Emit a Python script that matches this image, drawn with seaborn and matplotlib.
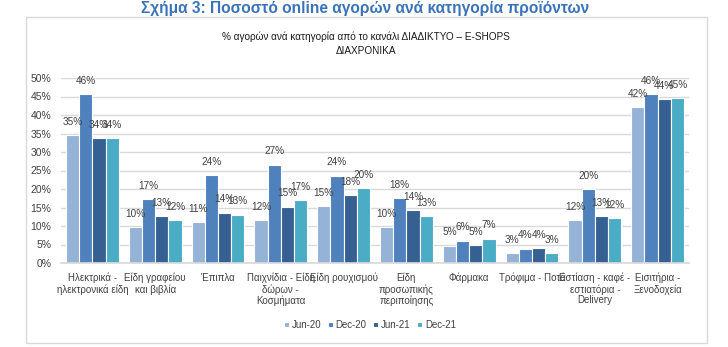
import matplotlib
matplotlib.use("Agg")
import matplotlib.pyplot as plt
from matplotlib.patches import Rectangle
from matplotlib.ticker import FuncFormatter
from matplotlib import font_manager
import seaborn as sns
import pandas as pd

categories = [
    "Ηλεκτρικά -\nηλεκτρονικά είδη",
    "Είδη γραφείου\nκαι βιβλία",
    "Έπιπλα",
    "Παιχνίδια - Είδη\nδώρων -\nΚοσμήματα",
    "Είδη ρουχισμού",
    "Είδη\nπροσωπικής\nπεριποίησης",
    "Φάρμακα",
    "Τρόφιμα - Ποτά",
    "Εστίαση - καφέ -\nεστιατόρια -\nDelivery",
    "Εισιτήρια -\nΞενοδοχεία",
]
periods = ["Jun-20", "Dec-20", "Jun-21", "Dec-21"]
jun20 = [34.6, 9.6, 11.1, 11.6, 15.3, 9.7, 4.7, 2.6, 11.6, 42.1]
dec20 = [45.6, 17.2, 23.7, 26.6, 23.6, 17.6, 6.0, 3.9, 19.9, 45.6]
jun21 = [33.7, 12.6, 13.6, 15.2, 18.3, 14.2, 4.8, 4.0, 12.7, 44.2]
dec21 = [33.7, 11.6, 13.1, 17.0, 20.2, 12.6, 6.6, 2.7, 12.2, 44.6]
colors = ["#95B3D7", "#4F81BD", "#366092", "#4BACC6"]

series = [jun20, dec20, jun21, dec21]
df = pd.DataFrame({
    "cat": [c for _ in periods for c in categories],
    "period": [p for p in periods for _ in categories],
    "value": [v for s in series for v in s],
})

sns.set_theme(style="white")
avail = {f.name for f in font_manager.fontManager.ttflist}
narrow = [n for n in ["Liberation Sans Narrow", "DejaVu Sans Condensed"] if n in avail]
FONT = narrow[:1] + ["Liberation Sans", "DejaVu Sans"]
plt.rcParams["font.family"] = FONT
narrow_found = bool(narrow) and narrow[0] == "Liberation Sans Narrow"
fs = 8 if narrow_found else 7.2

W, H = 728, 347
fig = plt.figure(figsize=(W / 100, H / 100), dpi=100)
fig.patch.set_facecolor("white")

# chart box
fig.patches.append(Rectangle((26 / W, 1 - 343 / H), (707 - 26) / W, (343 - 17) / H,
                             transform=fig.transFigure, fill=False,
                             edgecolor="#D9D9D9", linewidth=1.0))

left, right, top, bottom = 61, 689, 78, 263
ax = fig.add_axes([left / W, 1 - bottom / H, (right - left) / W, (bottom - top) / H])

sns.barplot(data=df, x="cat", y="value", hue="period", palette=colors, saturation=1,
            width=0.84, edgecolor="white", linewidth=0.8, ax=ax, legend=True)

ax.set_ylim(0, 50)
ax.set_xlim(-0.5, 9.5)
ax.set_yticks(range(0, 51, 5))
ax.yaxis.set_major_formatter(FuncFormatter(lambda v, p: f"{v:.0f}%"))
ax.grid(axis="y", color="#D9D9D9", linewidth=1.0)
ax.set_axisbelow(True)
for s in ["top", "right", "left"]:
    ax.spines[s].set_visible(False)
ax.spines["bottom"].set_color("#D9D9D9")
ax.set_xlabel("")
ax.set_ylabel("")
ax.tick_params(axis="y", length=0, labelsize=fs + 0.3, colors="#404040", pad=7)
ax.tick_params(axis="x", length=0, labelsize=fs - 0.2, colors="#404040", pad=7)
for t in ax.get_xticklabels():
    t.set_linespacing(1.1)
    t.set_va("top")

for cont in ax.containers:
    ax.bar_label(cont, labels=[f"{b.get_height():.0f}%" for b in cont],
                 padding=6, fontsize=fs, color="#404040")

handles, labels = ax.get_legend_handles_labels()
ax.get_legend().remove()
fig.legend(handles, labels, loc="center", bbox_to_anchor=(370 / W, 1 - 325 / H),
           ncol=4, frameon=False, fontsize=fs - 0.3, handlelength=0.5, handleheight=0.5,
           handletextpad=0.3, columnspacing=0.7, labelcolor="#404040")

fig.text(365 / W, 1 - 8.5 / H, "Σχήμα 3: Ποσοστό online αγορών ανά κατηγορία προϊόντων",
         ha="center", va="center", fontsize=11.2, fontweight="bold", color="#3B73B9")
fig.text(366 / W, 1 - 37 / H, "% αγορών ανά κατηγορία από το κανάλι ΔΙΑΔΙΚΤΥΟ – E-SHOPS",
         ha="center", va="center", fontsize=fs, color="#1a1a1a")
fig.text(366 / W, 1 - 51 / H, "ΔΙΑΧΡΟΝΙΚΑ",
         ha="center", va="center", fontsize=fs, color="#1a1a1a")

fig.savefig("out.png", dpi=100, facecolor="white")
